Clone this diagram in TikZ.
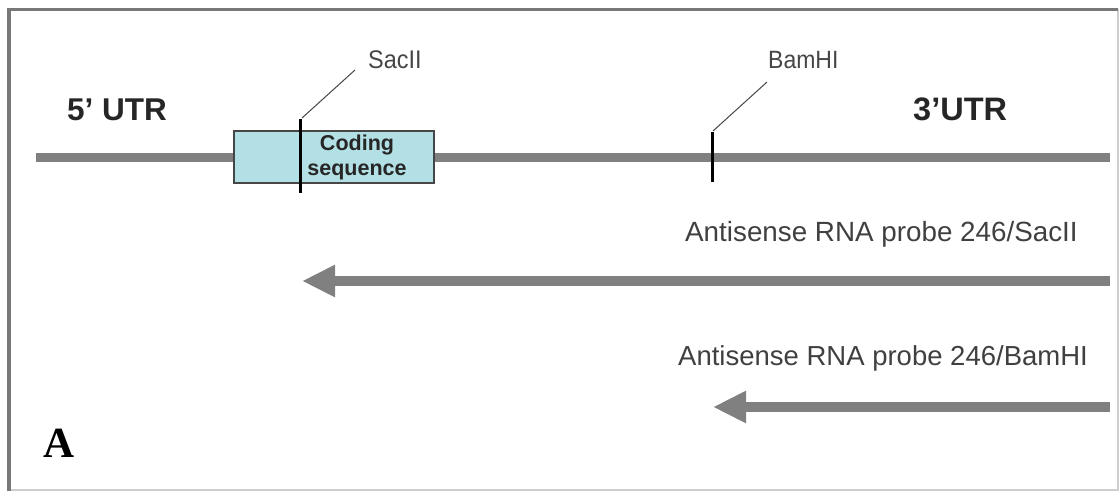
\documentclass[tikz,border=0pt]{standalone}
\usepackage{fontspec}
\setmainfont{Liberation Sans}
\newfontfamily\serifA{Liberation Serif}
\usetikzlibrary{arrows.meta}
\definecolor{geneGray}{RGB}{128,128,128}
\definecolor{boxFill}{RGB}{178,224,228}
\definecolor{boxEdge}{RGB}{70,70,70}
\definecolor{labelGray}{RGB}{70,70,70}
\definecolor{frameDark}{RGB}{120,120,120}
\definecolor{frameLight}{RGB}{205,205,205}
\tikzset{
  gene/.style={draw=geneGray, line width=9pt},
  probe/.style={draw=geneGray, fill=geneGray, line width=10pt, -{Triangle[length=33pt,width=30pt]}},
  cutsite/.style={draw=black, line width=3pt},
  leader/.style={draw=labelGray, line width=1pt},
  txt/.style={inner sep=0pt, anchor=base west},
}
\begin{document}
\begin{tikzpicture}[x=1pt,y=-1pt]
\useasboundingbox (0,0) rectangle (1120,491);
\fill[white] (0,0) rectangle (1120,491);
% frame
\draw[frameLight, line width=1.5pt] (1118,9) -- (1118,490) -- (9,490);
\draw[frameDark, line width=3.5pt] (9,491) -- (9,9.5) -- (1118,9.5);
% gene line
\coordinate (g5) at (36,157);
\coordinate (g3) at (1110,157);
\draw[gene] (g5) -- (g3);
% coding box
\node[draw=boxEdge, line width=1.5pt, fill=boxFill, minimum width=200pt, minimum height=52pt, inner sep=0pt] (cds) at (334,157) {};
\node[txt, anchor=base, font=\bfseries\fontsize{21.5}{24}\selectfont, text=black!85] (cod) at (357,150) {Coding};
\node[txt, anchor=base, font=\bfseries\fontsize{21.5}{24}\selectfont, text=black!85] (seq) at (357,175) {sequence};
% cut sites
\coordinate (sacT) at (300,119);
\coordinate (sacB) at (300,193);
\draw[cutsite] (sacT) -- (sacB);
\coordinate (bamT) at (712,132);
\coordinate (bamB) at (712,182);
\draw[cutsite] (bamT) -- (bamB);
% labels
\node[txt, font=\fontsize{25.5}{28}\selectfont, text=labelGray, xscale=0.92] (sac) at (368,68) {SacII};
\node[txt, font=\fontsize{25}{28}\selectfont, text=labelGray, xscale=0.92] (bam) at (768,68) {BamHI};
\coordinate (sacL) at (355,70);
\coordinate (bamL) at (767,82);
\draw[leader] (302,118) -- (sacL);
\draw[leader] (713,131) -- (bamL);
\node[txt, font=\bfseries\fontsize{31.5}{36}\selectfont, text=black!85] (utr5) at (67,120) {5’ UTR};
\node[txt, font=\bfseries\fontsize{32.5}{36}\selectfont, text=black!85] (utr3) at (913,120) {3’UTR};
% probes
\node[txt, font=\fontsize{27.8}{32}\selectfont, text=black!75] (p1) at (685,241) {Antisense RNA probe 246/SacII};
\coordinate (p1s) at (1110,281);
\coordinate (p1e) at (302,281);
\draw[probe] (p1s) -- (p1e);
\node[txt, font=\fontsize{27.5}{32}\selectfont, text=black!75] (p2) at (678,365) {Antisense RNA probe 246/BamHI};
\coordinate (p2s) at (1110,407);
\coordinate (p2e) at (713,407);
\draw[probe] (p2s) -- (p2e);
% panel letter
\node[txt, font=\serifA\bfseries\fontsize{43}{48}\selectfont] (lab) at (43,457) {A};
\end{tikzpicture}
\end{document}
